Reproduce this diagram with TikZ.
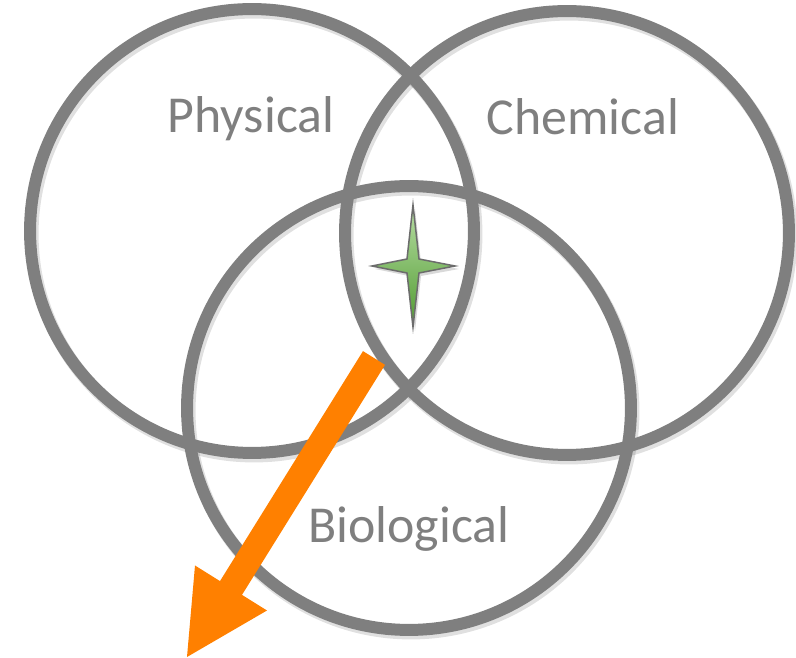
\documentclass[tikz,border=0pt]{standalone}
\usepackage{fontspec}
\setmainfont{Carlito}
\usetikzlibrary{calc}
\definecolor{ringgray}{HTML}{7F7F7F}
\definecolor{arroworange}{HTML}{FF8000}
\definecolor{startop}{HTML}{B8DEA4}
\definecolor{starbot}{HTML}{4F9A30}
\tikzset{
  ring/.style={circle, draw=ringgray, line width=0.24cm, minimum size=8.88cm, inner sep=0pt},
  ringshadow/.style={circle, draw=black, draw opacity=0.12, line width=0.26cm, minimum size=8.88cm, inner sep=0pt},
  label/.style={text=ringgray, font=\fontsize{29.5}{31}\selectfont, inner sep=0pt, anchor=base},
}
\begin{document}
\begin{tikzpicture}[x=0.02cm, y=-0.02cm]
\useasboundingbox (0,0) rectangle (796,658);
% shadows of rings
\node[ringshadow] at (254,234) {};
\node[ringshadow] at (569,236) {};
\node[ringshadow] at (411,411) {};
% rings
\node[ring] (phys) at (252,231) {};
\node[ring] (chem) at (567,233) {};
\node[ring] (bio) at (409,408) {};
% labels
\node[label] (lphys) at (251,133) {Physical};
\node[label] (lchem) at (583,135) {Chemical};
\node[label] (lbio) at (409,543) {Biological};
% star
\coordinate (sc) at (413,266);
\fill[black, opacity=0.15] (415,209) -- (421,262) -- (459,269) -- (421,276) -- (415,331) -- (409,276) -- (375,269) -- (409,262) -- cycle;
\draw[draw=ringgray!85!black, line width=0.03cm, top color=startop, bottom color=starbot]
  (413,205) -- (419,259) -- (455,266) -- (419,273) -- (413,327) -- (407,273) -- (372,266) -- (407,259) -- cycle;
\node[inner sep=0pt] (star) at (sc) {};
% arrow
\coordinate (tail) at (374,358);
\coordinate (tip) at (187,657);
\fill[arroworange] (385,364.9) -- (363,351.1) -- (220,581.1) -- (195,565.5) -- (tip) -- (267,610.5) -- (242,594.9) -- cycle;
\end{tikzpicture}
\end{document}
